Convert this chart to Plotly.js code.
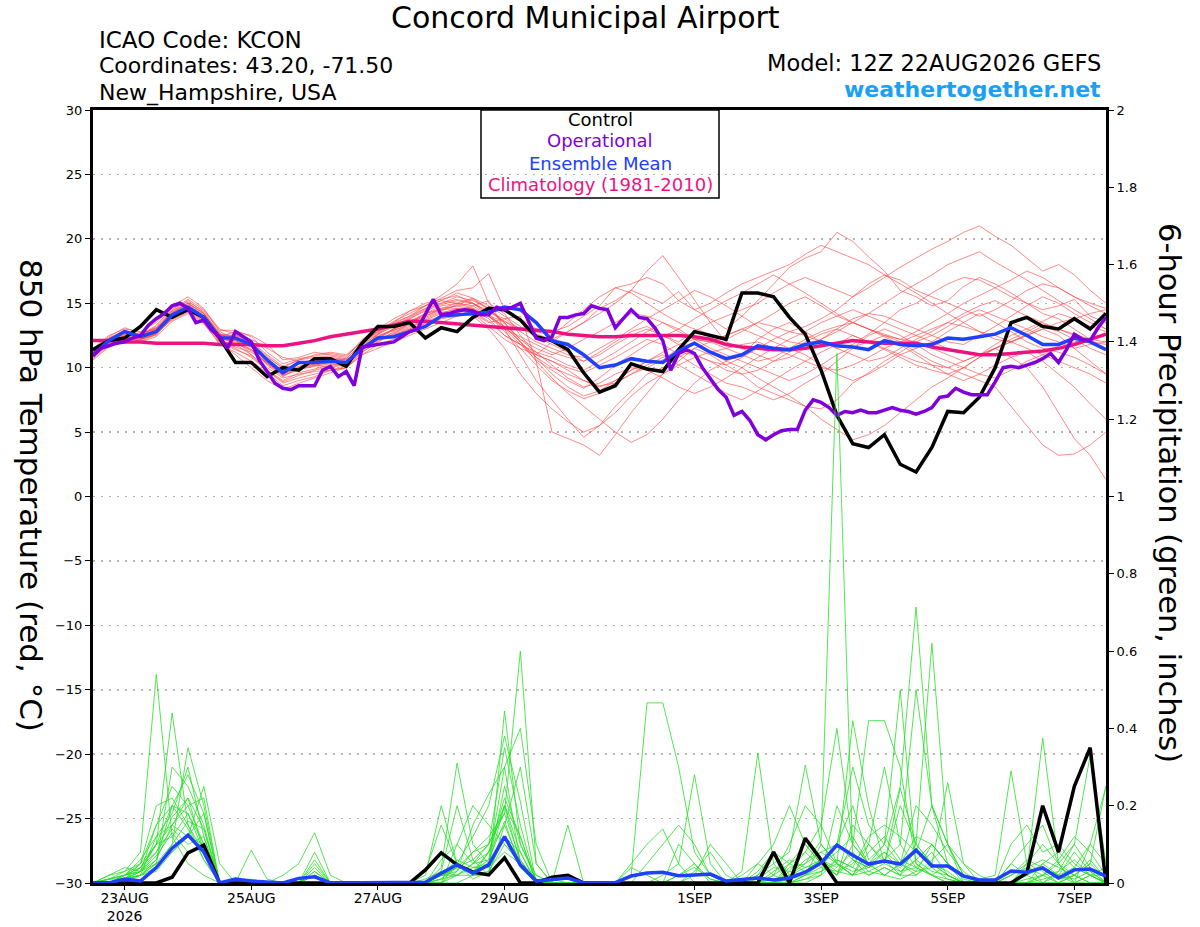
<!DOCTYPE html>
<html>
<head>
<meta charset="utf-8">
<script src="https://cdn.plot.ly/plotly-3.0.1.min.js"></script>
<style>html,body{margin:0;padding:0;background:#fff;}#chart{width:1200px;height:927px;}</style>
</head>
<body>
<div id="chart"></div>
<script>
// ---------- DATA (6-hourly from 12Z 22AUG2026, operational 3-hourly) ----------
const runStartUTC = Date.UTC(2026, 7, 22, 12);

const tickDates = ['2026-08-23','2026-08-25','2026-08-27','2026-08-29','2026-09-01','2026-09-03','2026-09-05','2026-09-07'];
const tickLabels = ['23AUG<br>2026','25AUG','27AUG','29AUG','1SEP','3SEP','5SEP','7SEP'];

const tempControl = [11.4,12.1,12.3,13.2,14.5,13.9,14.5,13.9,12.3,10.4,10.4,9.3,10.0,9.8,10.7,10.7,10.1,11.9,13.2,13.2,13.5,12.3,13.1,12.8,13.9,14.6,14.5,13.7,12.4,12.1,11.4,9.6,8.1,8.6,10.3,9.9,9.7,11.4,12.8,12.5,12.2,15.8,15.8,15.5,13.9,12.6,9.8,6.3,4.1,3.8,4.8,2.5,1.9,3.8,6.6,6.5,7.7,10.0,13.5,13.9,13.2,13.0,13.8,13.0,14.2];
const tempMean = [11.0,12.1,12.8,12.4,12.8,14.1,14.7,13.9,12.3,12.3,11.8,10.6,9.6,10.4,10.4,10.5,10.4,11.5,12.3,12.4,12.8,13.2,14.0,14.1,14.2,14.3,14.7,14.5,13.5,12.1,11.8,11.0,10.0,10.2,10.7,10.5,10.4,11.3,11.9,11.2,10.7,11.0,11.7,11.5,11.4,11.8,12.0,11.7,11.6,11.4,12.1,11.8,11.7,11.8,12.3,12.2,12.4,12.6,13.1,12.5,11.8,11.8,12.3,12.0,11.4];
const tempClim = [12.1,12.1,12.0,12.0,11.9,11.9,11.9,11.9,11.8,11.8,11.8,11.7,11.7,11.9,12.1,12.4,12.6,12.8,13.0,13.3,13.6,13.6,13.5,13.4,13.3,13.2,13.1,13.0,12.9,12.8,12.6,12.5,12.4,12.4,12.5,12.5,12.5,12.5,12.4,12.2,11.8,11.6,11.5,11.4,11.4,11.5,11.7,11.9,12.1,12.0,11.9,11.9,11.9,11.6,11.4,11.2,11.0,11.0,11.1,11.2,11.3,11.5,11.8,12.2,12.6];
const tempOper = [10.9,11.5,11.7,11.9,12.0,12.3,12.5,13.3,13.8,14.2,14.8,15.0,14.6,13.5,13.7,12.9,12.4,11.5,12.8,12.4,12.0,10.6,9.7,8.8,8.4,8.3,8.6,8.6,8.6,9.8,10.1,9.3,9.7,8.6,11.6,11.7,11.8,11.9,12.0,12.4,12.8,13.0,14.1,15.3,14.1,14.2,14.4,14.5,14.4,14.1,14.1,14.7,14.5,14.7,15.0,13.7,12.3,12.1,12.4,13.9,13.9,14.1,14.2,14.8,14.6,14.5,13.1,13.8,14.5,13.9,13.8,13.1,12.1,9.8,11.1,11.4,11.1,10.0,9.1,8.3,7.7,6.3,6.6,5.9,4.8,4.4,4.8,5.1,5.2,5.2,6.7,7.5,7.3,6.9,6.3,6.6,6.5,6.7,6.5,6.5,6.7,6.9,6.7,6.6,6.4,6.6,6.9,7.7,7.8,8.4,8.1,7.9,7.9,7.9,8.9,10.0,10.1,10.0,10.2,10.4,10.7,11.1,10.4,11.4,12.6,12.2,12.1,13.1,13.9];

const tempM01 = [11.2,12.3,12.9,12.5,13.2,14.5,15.3,14.5,13.0,12.6,11.8,10.8,10.0,10.6,11.0,11.2,11.0,12.0,12.8,13.5,14.0,14.8,15.6,16.5,17.9,15.0,14.2,12.5,11.0,12.0,12.8,13.5,14.6,15.2,16.0,15.5,15.0,15.9,14.5,13.8,13.0,14.0,15.2,16.5,17.8,18.5,19.0,20.5,19.8,18.6,17.5,16.0,15.5,14.8,15.2,16.3,17.0,16.5,15.8,15.0,14.5,14.8,15.3,14.0,13.5];
const tempM02 = [10.8,11.8,12.4,12.0,12.6,13.8,14.6,14.0,12.0,11.5,10.8,9.8,8.8,9.2,9.5,9.8,10.0,11.0,11.8,12.2,12.8,13.5,14.0,14.4,14.8,15.2,13.0,11.0,9.0,7.5,6.0,4.6,5.5,7.0,8.2,9.5,10.0,10.8,11.5,11.0,10.2,9.5,8.5,8.0,7.5,7.0,6.8,7.5,8.8,9.6,10.5,11.2,12.0,11.5,11.0,10.5,11.0,11.8,12.5,13.0,12.4,12.0,11.5,11.8,12.0];
const tempM03 = [11.5,12.5,13.0,12.8,13.5,14.8,15.5,14.6,12.8,12.2,11.0,9.8,9.0,9.6,9.9,10.2,10.4,11.8,12.9,13.2,13.8,14.5,15.0,15.5,15.2,14.6,13.5,12.0,10.5,9.2,8.0,7.0,6.0,5.0,4.2,4.8,6.0,7.5,8.8,9.8,10.5,11.0,12.2,13.0,13.5,12.8,12.0,11.5,11.8,12.6,13.5,14.5,15.0,15.8,16.5,17.0,16.8,16.2,15.5,15.0,14.2,13.8,13.0,12.2,11.5];
const tempM04 = [10.6,11.6,12.2,12.5,13.0,13.9,14.4,13.6,12.0,11.0,10.0,9.0,8.3,8.8,9.2,9.6,10.0,11.2,12.0,12.6,13.5,14.0,14.6,14.8,14.5,13.8,12.5,11.8,11.0,10.5,9.8,9.0,8.5,9.0,9.8,10.5,11.0,10.2,9.5,8.8,8.0,7.5,8.2,9.0,9.8,10.5,11.2,11.8,12.5,12.0,11.4,10.8,10.2,9.8,9.5,10.0,10.8,11.5,10.8,10.0,8.5,6.5,4.5,3.2,1.3];
const tempM05 = [11.3,12.1,12.8,12.2,12.6,14.2,15.0,14.2,12.6,12.5,12.2,11.5,10.8,10.5,10.2,10.0,10.3,11.5,12.4,13.0,13.6,14.2,14.5,14.8,15.0,14.3,13.8,13.0,12.6,12.2,12.8,13.5,14.2,15.0,16.0,17.5,18.7,17.0,15.2,13.5,12.0,11.5,11.0,10.5,10.8,11.5,12.2,13.0,13.8,14.2,14.0,13.5,13.0,12.5,12.0,11.8,12.5,13.2,14.0,14.8,15.5,15.0,14.2,13.5,13.0];
const tempM06 = [10.9,11.9,12.5,12.1,12.7,14.0,14.6,13.8,12.2,12.4,11.6,10.2,9.3,10.0,10.6,10.8,10.6,11.6,12.2,12.5,13.0,13.4,13.8,14.0,14.2,13.5,13.8,14.0,10.5,5.0,4.5,4.0,3.2,4.8,6.5,8.0,9.5,10.5,11.5,12.0,12.5,13.0,12.5,12.0,11.5,11.0,10.2,9.5,9.0,9.5,10.2,11.0,11.5,12.0,12.8,13.5,14.2,13.5,12.8,12.0,11.5,11.2,10.8,10.2,9.5];
const tempM07 = [11.1,12.2,12.7,12.4,12.9,14.3,14.9,14.1,12.5,12.3,11.9,10.9,9.9,10.3,10.5,10.7,10.6,11.6,12.5,12.9,13.4,14.2,14.6,15.0,15.4,14.8,14.0,13.2,12.4,11.8,11.2,10.5,11.0,11.8,12.5,13.0,12.5,12.0,12.8,13.5,14.0,14.5,15.0,15.8,16.5,17.0,16.5,16.0,15.5,16.2,17.0,17.8,18.5,19.2,19.8,20.5,21.0,20.2,19.5,18.5,17.5,18.0,17.2,16.0,15.0];
const tempM08 = [11.4,12.4,13.1,12.7,13.0,14.4,15.2,14.3,12.7,11.8,11.0,10.0,9.2,9.5,9.7,9.8,10.0,11.0,11.5,12.0,12.5,13.0,13.5,14.0,14.5,14.0,13.2,12.0,10.8,10.0,9.5,9.0,8.6,8.8,9.5,10.2,10.8,11.2,11.0,10.5,9.8,9.5,9.8,10.5,11.2,12.0,12.6,13.0,12.5,12.0,11.5,11.0,10.5,10.2,10.0,10.5,11.0,11.5,12.0,12.5,13.0,12.5,11.5,10.5,9.5];
const tempM09 = [10.7,11.7,12.3,12.2,12.8,13.7,14.3,13.5,11.8,11.2,10.5,9.6,8.6,9.0,9.3,9.8,10.2,11.4,12.6,13.5,14.4,15.0,15.3,15.6,15.0,14.0,12.8,11.5,10.2,9.0,8.2,7.6,8.0,8.8,9.5,10.0,10.6,11.5,12.0,11.2,10.5,10.0,9.2,8.5,7.8,7.0,6.0,5.2,4.4,4.8,5.5,6.5,7.5,8.5,9.2,10.0,10.8,11.5,12.2,12.8,13.4,13.0,12.5,12.0,11.8];
const tempM10 = [11.0,12.0,12.7,12.6,13.1,14.1,14.7,13.9,12.4,12.8,12.5,11.8,10.6,10.8,11.2,11.0,10.8,12.2,13.0,13.8,14.4,14.8,15.2,15.0,14.6,14.0,13.6,13.0,12.8,12.5,13.5,14.5,15.5,16.2,15.8,15.0,14.2,13.5,13.0,12.6,12.2,12.8,13.5,14.2,15.0,15.5,14.8,14.0,13.5,13.0,12.6,12.2,12.0,12.5,13.2,14.0,14.5,14.0,13.5,13.0,13.6,14.2,13.8,13.2,12.8];
const tempM11 = [11.2,12.2,12.9,12.3,12.5,13.9,14.5,13.7,12.1,11.6,11.2,10.4,9.4,9.9,10.1,10.3,10.2,11.2,12.0,12.8,13.2,13.6,14.0,14.3,14.0,13.0,11.5,9.5,8.0,6.8,5.8,5.0,5.5,6.5,7.8,8.8,9.5,10.2,10.8,11.2,11.5,11.8,12.0,11.5,11.0,10.5,10.0,9.8,10.2,10.8,11.5,12.0,12.5,13.0,13.5,13.2,12.8,12.5,12.0,11.5,11.0,10.5,10.0,9.5,8.8];
const tempM12 = [11.3,12.3,12.8,12.5,13.3,14.6,15.1,14.4,12.9,12.9,12.4,11.2,10.3,10.7,10.9,11.1,10.9,12.0,12.8,13.6,14.2,14.8,15.4,16.0,16.2,17.3,14.5,13.8,13.0,12.8,13.2,14.0,14.8,16.2,16.5,17.0,16.5,15.2,14.5,15.0,15.8,16.5,17.0,17.5,18.0,18.8,19.5,19.0,18.5,18.0,17.2,16.8,16.0,15.5,15.0,14.5,14.0,14.5,15.2,16.0,16.5,16.2,15.5,15.0,14.6];
const tempM13 = [10.8,11.9,12.5,12.0,12.4,13.6,14.2,13.4,11.9,11.4,10.9,9.8,8.9,9.4,9.8,10.1,10.3,11.6,12.4,13.0,13.6,14.0,14.5,14.6,14.2,13.2,12.2,11.5,11.0,10.5,10.0,9.6,10.2,10.8,11.5,12.2,11.8,11.0,10.2,9.5,8.8,8.5,8.0,7.5,8.0,8.8,9.5,10.5,11.5,12.5,13.0,12.5,11.8,11.0,10.5,10.0,9.5,9.2,9.8,10.5,11.0,11.5,12.0,12.2,12.5];
const tempM14 = [11.1,12.0,12.6,12.4,12.9,14.2,14.8,14.0,12.3,12.0,11.7,10.7,9.7,10.4,10.6,10.6,10.5,11.4,12.3,12.9,13.3,13.9,14.4,14.9,15.3,14.6,13.5,12.2,11.2,10.8,10.2,9.8,10.5,11.2,12.0,12.8,13.5,13.0,12.2,11.5,11.0,10.5,10.0,9.5,9.0,9.5,10.2,11.0,11.6,12.0,12.5,12.0,11.2,10.5,10.0,9.5,9.0,8.5,7.0,5.5,4.0,3.2,3.3,4.0,5.0];
const tempM15 = [11.0,12.1,12.8,12.5,12.9,14.1,14.6,13.8,12.2,12.1,11.6,10.6,9.8,10.3,10.5,10.6,10.7,11.8,12.6,13.2,13.8,14.4,14.9,15.2,15.0,14.2,13.0,11.8,10.6,9.8,9.0,8.4,9.2,10.2,11.0,11.8,12.4,13.0,13.8,14.5,15.2,15.8,16.5,17.2,16.5,15.8,15.0,14.2,13.5,13.0,12.5,12.2,12.8,13.5,14.2,15.0,15.6,16.2,16.8,17.5,17.0,16.2,15.5,14.8,14.2];
const tempM16 = [11.2,12.1,12.7,12.3,12.7,14.0,14.7,14.0,12.5,12.1,11.4,10.3,9.5,10.0,10.3,10.5,10.3,11.3,12.2,12.7,13.1,13.8,14.3,14.5,14.3,13.6,12.5,11.8,11.2,10.2,9.2,8.5,8.8,9.5,10.0,9.8,9.2,8.5,8.0,8.5,9.2,10.0,10.8,11.5,12.2,12.8,13.5,14.0,14.5,14.0,13.5,13.0,12.5,12.0,11.5,11.2,11.0,11.5,12.0,12.6,13.2,12.8,12.2,11.5,11.0];
const tempM17 = [10.9,11.8,12.4,12.2,12.7,13.8,14.5,13.7,12.0,11.9,11.3,10.3,9.4,9.8,10.2,10.4,10.4,11.5,12.3,13.0,13.5,14.2,14.8,15.0,14.8,14.0,13.0,12.4,11.8,11.2,10.8,10.5,11.2,12.0,12.8,13.2,12.5,11.8,11.0,10.5,10.2,10.8,11.5,12.2,12.8,13.2,13.8,14.5,15.5,16.5,17.2,16.5,15.8,15.0,14.2,13.5,12.8,12.2,12.0,12.5,13.0,13.5,13.8,14.2,14.5];
const tempM18 = [11.1,12.2,12.8,12.5,13.0,14.3,15.0,14.2,12.6,12.2,11.6,10.6,9.6,10.1,10.4,10.5,10.4,11.7,12.6,13.3,13.9,14.6,15.2,15.8,15.4,14.5,13.4,12.2,11.5,11.0,11.5,12.2,12.8,13.5,14.2,14.0,13.5,12.8,12.2,12.0,12.5,13.0,13.5,13.2,12.8,12.5,12.0,11.5,11.0,10.5,10.8,11.5,12.2,12.8,13.5,14.2,14.8,15.2,14.6,14.0,13.5,13.0,12.6,12.2,12.0];
const tempM19 = [11.0,12.0,12.6,12.2,12.6,13.9,14.6,13.8,12.3,11.9,11.4,10.4,9.5,10.0,10.2,10.4,10.5,11.4,12.1,12.6,13.0,13.7,14.2,14.6,14.6,14.0,13.2,12.0,10.8,9.5,8.5,7.8,8.2,9.0,9.8,10.5,11.2,11.8,12.2,12.0,11.5,11.0,10.5,10.8,11.5,12.2,12.8,13.2,13.5,13.0,12.4,11.8,11.0,10.2,9.5,9.0,9.5,10.2,10.8,11.2,10.5,9.5,8.5,7.2,6.0];
const tempM20 = [11.2,12.2,12.9,12.6,13.1,14.4,15.0,14.2,12.5,12.5,12.0,11.0,10.1,10.6,10.8,10.9,10.7,11.9,12.7,13.4,14.0,14.6,15.0,15.3,15.0,14.4,13.6,12.8,12.0,11.5,11.0,10.8,11.5,12.2,13.0,13.8,14.5,15.2,16.0,15.5,14.8,14.0,13.2,12.5,12.0,11.8,12.2,12.8,13.5,14.2,15.0,15.8,16.5,17.2,18.0,18.5,19.0,18.2,17.5,16.8,16.0,15.2,14.5,13.8,13.0];

const precipControl = [0,0,0,0,0, 0.015,0.078,0.098,0,0, 0,0,0,0,0, 0,0,0,0,0, 0,0.034,0.078,0.047,0.028, 0.021,0.065,0,0,0.015, 0.02,0,0,0,0, 0,0,0,0,0, 0,0,0,0.08,0, 0.116,0.06,0,0,0, 0,0,0,0,0, 0,0,0,0,0.026, 0.2,0.08,0.25,0.35,0];
const precipMean = [0,0,0.01,0.005,0.04, 0.09,0.124,0.08,0,0.01, 0.005,0.002,0,0.012,0.016, 0,0,0,0,0, 0,0.002,0.025,0.047,0.025, 0.047,0.12,0.047,0.005,0.008, 0.013,0,0,0.001,0.018, 0.026,0.028,0.019,0.021,0.023, 0.005,0.008,0.013,0.008,0.013, 0.028,0.052,0.098,0.072,0.049, 0.057,0.049,0.085,0.044,0.044, 0.018,0.008,0.008,0.031,0.028, 0.039,0.013,0.034,0.036,0.018];

const precipM01 = [0,0.01,0.03,0.08,0.54, 0.12,0.05,0.02,0,0, 0,0,0,0,0.03, 0,0,0,0,0, 0,0.02,0.2,0.05,0.01, 0.03,0.12,0.04,0,0, 0,0,0,0,0, 0,0,0.02,0.05,0.01, 0,0,0.03,0.08,0.02, 0.05,0.11,1.37,0.06,0.04, 0.06,0.02,0.1,0.05,0.03, 0,0,0,0.02,0.05, 0.03,0,0.02,0.06,0.01];
const precipM02 = [0,0,0.02,0.03,0.1, 0.44,0.15,0.06,0,0, 0.01,0,0,0,0, 0,0,0,0,0, 0,0,0.04,0.31,0.1, 0.05,0.2,0.08,0,0.01, 0,0,0,0,0.02, 0.466,0.466,0.3,0.08,0.02, 0,0,0,0,0.01, 0.03,0.06,0.02,0.1,0.42, 0.42,0.3,0.05,0.02,0, 0,0,0,0,0.02, 0.05,0.02,0,0,0];
const precipM03 = [0,0,0.01,0.02,0.12, 0.18,0.3,0.12,0,0, 0,0,0,0,0.05, 0,0,0,0,0, 0,0.01,0.03,0.2,0.06, 0.02,0.445,0.1,0.01,0, 0,0,0,0,0, 0,0.02,0.05,0.28,0.05, 0,0,0,0,0.03, 0.08,0.04,0.1,0.2,0.06, 0.1,0.25,0.714,0.2,0.05, 0.02,0,0,0,0.05, 0.1,0.05,0.02,0,0];
const precipM04 = [0,0.02,0.04,0.03,0.15, 0.25,0.2,0.1,0,0, 0.085,0.01,0,0,0, 0,0,0,0,0, 0,0,0,0.05,0.12, 0.2,0.38,0.21,0,0, 0,0,0,0,0, 0,0,0.1,0.05,0, 0,0.03,0.336,0.05,0, 0.02,0.1,0.05,0.02,0.1, 0.05,0.2,0.1,0.62,0.1, 0,0,0,0.05,0.02, 0,0.02,0.08,0.03,0];
const precipM05 = [0,0,0.01,0.05,0.2, 0.22,0.15,0.08,0,0, 0,0,0.02,0.05,0.13, 0.02,0,0,0,0, 0,0,0.02,0.04,0.08, 0.12,0.18,0.6,0.05,0, 0.15,0,0,0,0, 0,0,0,0,0, 0,0,0.02,0.05,0.08, 0.305,0.1,0.05,0.02,0.05, 0.1,0.05,0.02,0.05,0.26, 0.05,0,0,0,0, 0.02,0.05,0.1,0.04,0];
const precipM06 = [0,0.01,0.02,0.04,0.08, 0.17,0.22,0.14,0,0, 0,0,0,0,0.03, 0,0,0,0,0, 0,0.03,0.15,0.05,0.02, 0.08,0.2,0.05,0,0, 0,0,0,0,0, 0.05,0.1,0.15,0.1,0.02, 0,0,0,0.02,0.1, 0.2,0.15,0.4,0.1,0.05, 0.02,0.01,0.03,0.1,0.05, 0.02,0.01,0.02,0.29,0.05, 0,0,0.02,0,0];
const precipM07 = [0,0,0.01,0.02,0.05, 0.3,0.25,0.15,0,0, 0,0,0,0,0.02, 0,0,0,0,0, 0,0,0.06,0.1,0.05, 0.1,0.35,0.15,0,0, 0,0,0,0,0.04, 0.02,0,0,0,0, 0,0.02,0.05,0.1,0.2, 0.1,0.05,0.1,0.3,0.15, 0.1,0.5,0.05,0.02,0, 0,0,0,0,0.03, 0.375,0.05,0,0,0];
const precipM08 = [0,0,0.01,0.03,0.06, 0.2,0.28,0.18,0,0, 0,0,0,0,0.04, 0,0,0,0,0, 0,0,0.02,0.03,0.15, 0.23,0.3,0.05,0,0, 0,0,0,0,0, 0,0,0,0.03,0.08, 0.02,0,0,0,0.05, 0.08,0.15,0.05,0.42,0.2, 0.05,0.245,0.1,0.05,0.02, 0,0,0,0,0, 0,0.03,0.1,0.33,0.05];
const precipM09 = [0,0.01,0.02,0.06,0.12, 0.15,0.12,0.1,0,0, 0,0,0,0,0, 0,0,0,0,0, 0,0,0.02,0.05,0.03, 0.05,0.25,0.1,0.02,0, 0,0,0,0,0, 0,0,0,0,0, 0,0,0.02,0.08,0.05, 0.1,0.05,0.02,0.15,0.1, 0.3,0.1,0.5,0.2,0.1, 0.02,0,0,0.05,0.1, 0.15,0.05,0,0.1,0.25];
const precipM10 = [0,0,0.01,0.02,0.04, 0.1,0.35,0.2,0,0, 0,0,0,0,0, 0,0,0,0,0, 0,0,0.01,0.02,0.05, 0.06,0.3,0.4,0.1,0, 0,0,0,0,0, 0,0,0,0,0, 0,0,0,0.03,0.06, 0.04,0.05,0.08,0.12,0.05, 0.08,0.05,0.12,0.1,0.05, 0,0,0,0.1,0.15, 0.08,0.1,0.05,0.02,0];
const precipM11 = [0,0.02,0.03,0.05,0.1, 0.2,0.18,0.08,0,0, 0,0,0,0,0.08, 0,0,0,0,0, 0,0,0,0,0.02, 0.02,0.15,0.05,0,0, 0,0,0,0,0, 0,0,0,0,0, 0,0,0.05,0.02,0, 0.02,0.03,0.06,0.04,0.12, 0.15,0.12,0.08,0.2,0.1, 0.05,0.02,0,0,0, 0,0,0,0.02,0];
const precipM12 = [0,0,0.02,0.04,0.1, 0.15,0.2,0.22,0,0, 0,0,0,0,0, 0,0,0,0,0, 0,0,0.01,0.04,0.06, 0.1,0.2,0.12,0,0, 0,0,0,0,0, 0,0,0,0,0, 0,0,0,0.01,0.02, 0.06,0.08,0.05,0.03,0.04, 0.06,0.1,0.04,0.02,0.05, 0.02,0,0,0,0.04, 0.06,0.04,0.02,0.05,0.01];
const precipM13 = [0,0,0.01,0.02,0.03, 0.08,0.12,0.25,0.05,0, 0,0,0,0,0, 0,0,0,0,0, 0,0,0,0.1,0.2, 0.15,0.1,0.05,0.02,0, 0,0,0,0,0, 0,0,0,0,0, 0,0,0,0,0, 0.01,0.02,0.2,0.1,0.05, 0.02,0.05,0.2,0.15,0.08, 0.03,0,0,0,0, 0.02,0.06,0.12,0.08,0.02];
const precipM14 = [0,0,0.01,0.04,0.1, 0.12,0.18,0.1,0,0, 0,0,0,0,0.06, 0,0,0,0,0, 0,0,0.02,0.02,0.05, 0.08,0.15,0.3,0.05,0, 0,0,0,0,0, 0,0,0,0.02,0.1, 0.05,0,0,0,0, 0,0.02,0.06,0.04,0.02, 0.04,0.02,0.02,0.06,0.1, 0.02,0,0,0,0, 0,0,0.04,0.1,0.05];
const precipM15 = [0,0.01,0.02,0.03,0.08, 0.14,0.1,0.12,0,0, 0,0,0,0,0.02, 0,0,0,0,0, 0,0,0.02,0.06,0.04, 0.04,0.08,0.05,0.01,0, 0,0,0,0,0.05, 0.1,0.14,0.05,0,0, 0,0,0,0,0.04, 0.05,0.08,0.1,0.06,0.04, 0.08,0.03,0.04,0.02,0.01, 0,0,0,0,0.02, 0.04,0.02,0.01,0.03,0];
const precipM16 = [0,0,0.02,0.05,0.15, 0.2,0.14,0.06,0,0, 0,0,0,0,0, 0,0,0,0,0, 0,0,0,0.03,0.08, 0.1,0.18,0.06,0,0, 0,0,0,0,0, 0,0,0,0,0, 0,0,0,0,0.02, 0.04,0.06,0.03,0.02,0.08, 0.12,0.06,0.04,0.08,0.02, 0,0,0,0,0, 0.05,0.08,0.04,0.02,0];
const precipM17 = [0,0.01,0.01,0.03,0.05, 0.1,0.16,0.14,0,0, 0,0,0,0,0, 0,0,0,0,0, 0,0,0.03,0.02,0.04, 0.05,0.12,0.08,0,0, 0,0,0,0,0, 0,0,0,0,0, 0,0,0.01,0.04,0.03, 0.02,0.05,0.02,0.06,0.02, 0.04,0.02,0.06,0.03,0.02, 0,0,0,0,0.01, 0.02,0.03,0.06,0.02,0];
const precipM18 = [0,0,0.01,0.02,0.06, 0.15,0.22,0.08,0,0, 0,0,0,0,0, 0,0,0,0,0, 0,0,0.01,0.05,0.03, 0.08,0.22,0.12,0,0, 0,0,0,0,0, 0,0,0,0,0, 0,0,0,0,0.01, 0.02,0.04,0.03,0.05,0.1, 0.06,0.04,0.08,0.05,0.02, 0,0,0,0.02,0.04, 0.02,0,0,0.02,0.04];
const precipM19 = [0,0,0,0.02,0.05, 0.08,0.12,0.18,0,0, 0,0,0,0,0, 0,0,0,0,0, 0,0,0,0.02,0.02, 0.03,0.1,0.06,0,0, 0,0,0,0,0, 0,0,0,0,0, 0,0,0,0,0, 0.01,0.03,0.05,0.02,0.03, 0.02,0.05,0.03,0.04,0.01, 0,0,0,0,0, 0.01,0.02,0.04,0.02,0.02];
const precipM20 = [0,0,0.01,0.03,0.07, 0.13,0.08,0.1,0,0, 0,0,0,0,0.02, 0,0,0,0,0, 0,0,0.02,0.04,0.03, 0.06,0.16,0.04,0,0, 0,0,0,0,0, 0,0,0.02,0.04,0.01, 0,0,0,0.02,0.05, 0.03,0.06,0.04,0.08,0.03, 0.05,0.03,0.06,0.1,0.05, 0.01,0,0,0.02,0.06, 0.04,0.01,0.02,0.05,0.25];

const tempMembers = [tempM01,tempM02,tempM03,tempM04,tempM05,tempM06,tempM07,tempM08,tempM09,tempM10,tempM11,tempM12,tempM13,tempM14,tempM15,tempM16,tempM17,tempM18,tempM19,tempM20];
const precipMembers = [precipM01,precipM02,precipM03,precipM04,precipM05,precipM06,precipM07,precipM08,precipM09,precipM10,precipM11,precipM12,precipM13,precipM14,precipM15,precipM16,precipM17,precipM18,precipM19,precipM20];

// ---------- BUILD ----------
function stamp(hours) {
  return new Date(runStartUTC + hours * 3600000).toISOString().slice(0, 16).replace('T', ' ');
}
const t6 = tempControl.map((_, i) => stamp(6 * i));
const t3 = tempOper.map((_, j) => stamp(3 * j));

const traces = [];
tempMembers.forEach(m => traces.push({x: t6, y: m, type: 'scatter', mode: 'lines', line: {color: 'rgba(255,70,70,0.8)', width: 0.8}, hoverinfo: 'skip', showlegend: false}));
precipMembers.forEach(m => traces.push({x: t6, y: m, yaxis: 'y2', type: 'scatter', mode: 'lines', line: {color: 'rgb(40,222,40)', width: 0.8}, hoverinfo: 'skip', showlegend: false}));
traces.push({x: t6, y: tempClim, type: 'scatter', mode: 'lines', line: {color: '#ee1280', width: 3.5}, showlegend: false});
traces.push({x: t6, y: tempControl, type: 'scatter', mode: 'lines', line: {color: '#000000', width: 3.5}, showlegend: false});
traces.push({x: t6, y: tempMean, type: 'scatter', mode: 'lines', line: {color: '#2040ff', width: 3.5}, showlegend: false});
traces.push({x: t3, y: tempOper, type: 'scatter', mode: 'lines', line: {color: '#8000dc', width: 3.5}, showlegend: false});
traces.push({x: t6, y: precipControl, yaxis: 'y2', type: 'scatter', mode: 'lines', line: {color: '#000000', width: 3.5}, showlegend: false});
traces.push({x: t6, y: precipMean, yaxis: 'y2', type: 'scatter', mode: 'lines', line: {color: '#2040ff', width: 3.5}, showlegend: false});

// pixel -> paper helpers for annotation placement
const PL = 93, PR = 1106, PT = 110, PB = 883;
const px = v => (v - PL) / (PR - PL);
const py = v => (PB - v) / (PB - PT);
const FONT = 'DejaVu Sans';

const ann = (text, x, y, size, color, xanchor, extra) => Object.assign({
  text, x: px(x), y: py(y), xref: 'paper', yref: 'paper', showarrow: false,
  xanchor: xanchor, yanchor: 'middle', font: {family: FONT, size: size, color: color}
}, extra || {});

const layout = {
  width: 1200, height: 927,
  margin: {l: PL, r: 1200 - PR, t: PT, b: 927 - PB, pad: 0},
  paper_bgcolor: '#ffffff', plot_bgcolor: '#ffffff',
  font: {family: FONT, color: '#000'},
  showlegend: false,
  xaxis: {
    type: 'date', range: [stamp(0), stamp(384)],
    tickvals: tickDates, ticktext: tickLabels,
    ticks: 'outside', ticklen: 4, tickwidth: 1, tickcolor: '#000',
    ticklabelstandoff: -4,
    tickfont: {family: FONT, size: 14, color: '#000'},
    showline: true, mirror: true, linewidth: 3, linecolor: '#000',
    showgrid: false, zeroline: false
  },
  yaxis: {
    range: [-30, 30], tick0: -30, dtick: 5,
    ticks: 'outside', ticklen: 5, tickwidth: 1, tickcolor: '#000',
    tickfont: {family: FONT, size: 13, color: '#000'},
    showline: true, linewidth: 3, linecolor: '#000',
    showgrid: true, gridcolor: '#b4b4b4', gridwidth: 1.5, griddash: '2px,6px',
    zeroline: false
  },
  yaxis2: {
    overlaying: 'y', side: 'right', range: [0, 2], tick0: 0, dtick: 0.2,
    ticks: 'outside', ticklen: 5, tickwidth: 1, tickcolor: '#000',
    tickfont: {family: FONT, size: 13, color: '#000'},
    showline: true, linewidth: 3, linecolor: '#000',
    showgrid: false, zeroline: false
  },
  shapes: [
    {type: 'rect', xref: 'paper', yref: 'paper', x0: px(481), x1: px(719), y0: py(198), y1: 1,
     line: {color: '#000', width: 1.5}, fillcolor: 'rgba(0,0,0,0)', layer: 'above'}
  ],
  annotations: [
    ann('Concord Municipal Airport', 585, 18, 30, '#000', 'center'),
    ann('ICAO Code: KCON', 97, 40, 23, '#000', 'left'),
    ann('Coordinates: 43.20, -71.50', 97, 66, 22, '#000', 'left'),
    ann('New_Hampshire, USA', 97, 93, 22, '#000', 'left'),
    ann('Model: 12Z 22AUG2026 GEFS', 1103, 63, 22.5, '#000', 'right'),
    ann('<b>weathertogether.net</b>', 1103, 89, 22, '#1aa0f5', 'right'),
    ann('Control', 600, 120, 18, '#000', 'center'),
    ann('Operational', 600, 141, 18, '#8000dc', 'center'),
    ann('Ensemble Mean', 600, 163, 18, '#2040ff', 'center'),
    ann('Climatology (1981-2010)', 600, 185, 18, '#ee1280', 'center'),
    ann('850 hPa Temperature (red, °C)', 31, 495, 31, '#000', 'center', {textangle: 90}),
    ann('6-hour Precipitation (green, inches)', 1170, 493, 30.5, '#000', 'center', {textangle: 90})
  ]
};

Plotly.newPlot('chart', traces, layout, {staticPlot: true, displayModeBar: false});
</script>
</body>
</html>
